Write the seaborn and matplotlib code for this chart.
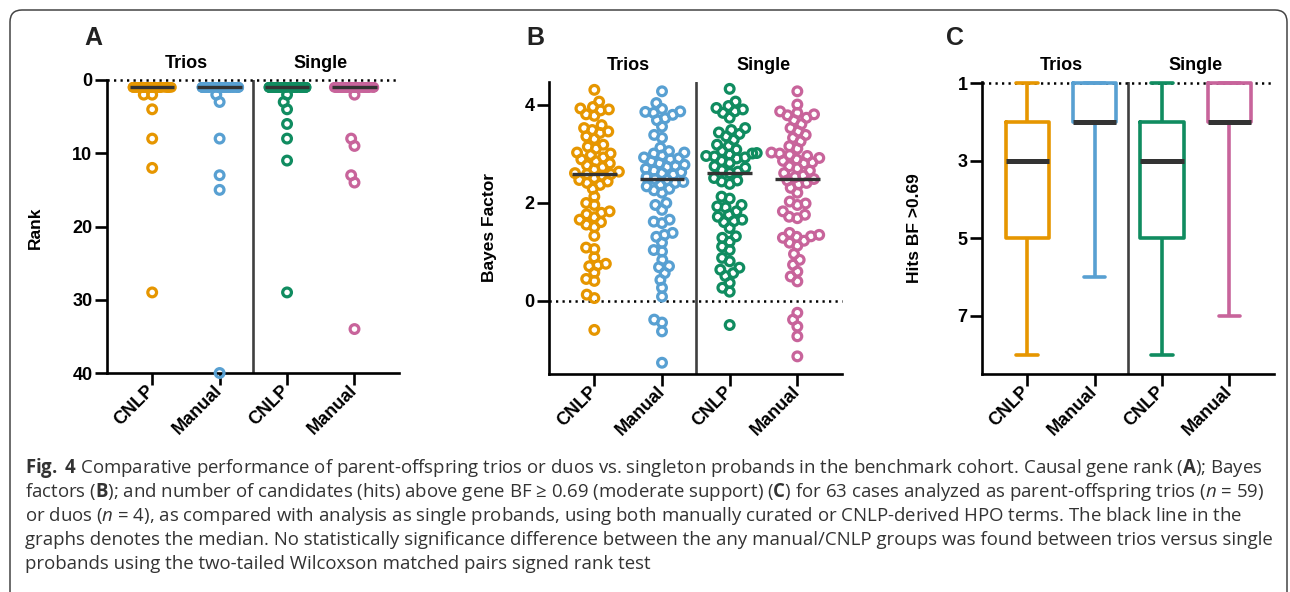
import numpy as np
import pandas as pd
import matplotlib
matplotlib.use("Agg")
import matplotlib.pyplot as plt
from matplotlib.patches import FancyBboxPatch
from matplotlib.transforms import IdentityTransform
import seaborn as sns

groups = ["Trios CNLP", "Trios Manual", "Single CNLP", "Single Manual"]
tick_labels = ["CNLP", "Manual", "CNLP", "Manual"]
colors = ["#E69600", "#58A0D2", "#108C60", "#C8649B"]
n_cases = 63

# A: causal gene rank; every case not listed sits at rank 1
rank_trios_cnlp = [2, 2, 4, 8, 12, 29]
rank_trios_manual = [2, 3, 8, 13, 15, 40]
rank_single_cnlp = [2, 3, 4, 6, 8, 11, 29]
rank_single_manual = [2, 8, 9, 13, 14, 34]

# B: Bayes factors
bf_trios_cnlp = [4.30, 4.06, 3.95, 3.92, 3.90, 3.88, 3.80, 3.77, 3.58, 3.52, 3.48,
                 3.45, 3.42, 3.35, 3.30, 3.18, 3.14, 3.10, 3.02, 3.00, 2.97, 2.92,
                 2.88, 2.84, 2.80, 2.76, 2.72, 2.68, 2.63, 2.60, 2.58, 2.58, 2.55,
                 2.50, 2.46, 2.43, 2.40, 2.36, 2.28, 2.12, 1.99, 1.95, 1.82, 1.79,
                 1.76, 1.70, 1.65, 1.60, 1.55, 1.50, 1.32, 1.08, 1.05, 0.88, 0.75,
                 0.72, 0.70, 0.57, 0.44, 0.40, 0.12, 0.05, -0.60]
bf_trios_manual = [4.27, 4.03, 3.91, 3.86, 3.85, 3.83, 3.79, 3.72, 3.68, 3.55, 3.38,
                   3.32, 3.12, 3.05, 3.02, 3.00, 2.96, 2.92, 2.90, 2.88, 2.84, 2.80,
                   2.77, 2.75, 2.73, 2.69, 2.65, 2.62, 2.60, 2.57, 2.52, 2.48, 2.46,
                   2.42, 2.40, 2.36, 2.33, 2.28, 2.25, 2.20, 1.99, 1.95, 1.85, 1.65,
                   1.61, 1.58, 1.38, 1.34, 1.30, 1.18, 1.03, 1.00, 0.83, 0.70, 0.68,
                   0.56, 0.42, 0.26, 0.08, -0.39, -0.45, -0.63, -1.27]
bf_single_cnlp = [4.32, 4.06, 3.97, 3.93, 3.90, 3.86, 3.83, 3.73, 3.52, 3.48, 3.43,
                  3.40, 3.35, 3.28, 3.18, 3.15, 3.08, 3.05, 3.01, 3.00, 2.98, 2.95,
                  2.94, 2.92, 2.90, 2.85, 2.81, 2.74, 2.71, 2.66, 2.63, 2.60, 2.50,
                  2.45, 2.43, 2.38, 2.12, 2.08, 1.95, 1.92, 1.90, 1.82, 1.75, 1.71,
                  1.65, 1.62, 1.60, 1.48, 1.31, 1.28, 1.20, 1.10, 1.03, 0.87, 0.80,
                  0.67, 0.63, 0.56, 0.50, 0.36, 0.26, 0.18, -0.50]
bf_single_manual = [4.27, 4.00, 3.86, 3.83, 3.80, 3.78, 3.73, 3.68, 3.60, 3.52, 3.45,
                    3.38, 3.32, 3.25, 3.15, 3.10, 3.02, 3.00, 2.97, 2.95, 2.91, 2.88,
                    2.85, 2.82, 2.80, 2.74, 2.70, 2.65, 2.60, 2.55, 2.52, 2.48, 2.45,
                    2.40, 2.37, 2.30, 2.20, 2.02, 1.98, 1.95, 1.82, 1.75, 1.71, 1.68,
                    1.38, 1.34, 1.31, 1.30, 1.28, 1.22, 1.18, 1.12, 0.95, 0.83, 0.73,
                    0.59, 0.49, 0.39, -0.25, -0.39, -0.53, -0.73, -1.14]

# C: number of hits with BF > 0.69
hits_trios_cnlp = [1] * 5 + [2] * 12 + [3] * 16 + [4] * 12 + [5] * 10 + [6] * 4 + [7] * 2 + [8] * 2
hits_trios_manual = [1] * 20 + [2] * 30 + [3] * 6 + [4] * 4 + [5] * 2 + [6] * 1
hits_single_cnlp = [1] * 5 + [2] * 12 + [3] * 16 + [4] * 12 + [5] * 10 + [6] * 4 + [7] * 2 + [8] * 2
hits_single_manual = [1] * 20 + [2] * 32 + [3] * 5 + [4] * 3 + [5] * 2 + [7] * 1

caption_lines = [
    r"$\mathbf{Fig.}$ $\mathbf{4}$ Comparative performance of parent-offspring trios or duos vs. singleton probands in the benchmark cohort. Causal gene rank ($\mathbf{A}$); Bayes",
    r"factors ($\mathbf{B}$); and number of candidates (hits) above gene BF ≥ 0.69 (moderate support) ($\mathbf{C}$) for 63 cases analyzed as parent-offspring trios ($n$ = 59)",
    r"or duos ($n$ = 4), as compared with analysis as single probands, using both manually curated or CNLP-derived HPO terms. The black line in the",
    "graphs denotes the median. No statistically significance difference between the any manual/CNLP groups was found between trios versus single",
    "probands using the two-tailed Wilcoxson matched pairs signed rank test",
]

ranks = [rank_trios_cnlp, rank_trios_manual, rank_single_cnlp, rank_single_manual]
df_a = pd.concat([
    pd.DataFrame({"group": g, "rank": [1] * (n_cases - len(r)) + r})
    for g, r in zip(groups, ranks)
])
df_b = pd.concat([
    pd.DataFrame({"group": g, "bf": v})
    for g, v in zip(groups, [bf_trios_cnlp, bf_trios_manual, bf_single_cnlp, bf_single_manual])
])
df_c = pd.concat([
    pd.DataFrame({"group": g, "hits": v})
    for g, v in zip(groups, [hits_trios_cnlp, hits_trios_manual, hits_single_cnlp, hits_single_manual])
])

sns.set_theme(style="ticks")
plt.rcParams["font.family"] = ["Liberation Sans", "DejaVu Sans"]
plt.rcParams["text.color"] = "black"
plt.rcParams["mathtext.fontset"] = "custom"
plt.rcParams["mathtext.rm"] = "Open Sans"
plt.rcParams["mathtext.it"] = "Open Sans:style=italic:weight=normal"
plt.rcParams["mathtext.bf"] = "Open Sans:weight=bold"

W, H = 1290, 592
fig = plt.figure(figsize=(W / 100, H / 100), dpi=100)

# swarm layout uses a small marker (packed like the original), then the
# marker is drawn larger so the rings overlap
SWARM_SIZE, SWARM_LW = 4.3, 1.45
MARK_SIZE, MARK_LW = 6.3, 2.3


def px_axes(left, top, right, bottom):
    return fig.add_axes([left / W, 1 - bottom / H, (right - left) / W, (bottom - top) / H])


def hollow(ax, start=0):
    for coll in ax.collections[start:]:
        fc = coll.get_facecolors()
        coll.set_edgecolors(fc)
        coll.set_facecolors("none")
        coll.set_clip_on(False)


def style_axis(ax, ylabel, label_x, label_y, yticks, ref_y):
    sns.despine(ax=ax)
    for s in ["left", "bottom"]:
        ax.spines[s].set_linewidth(1.9)
        ax.spines[s].set_color("black")
    ax.tick_params(axis="both", length=8.5, width=1.9, color="black",
                   labelsize=13, pad=2, left=True, bottom=True, labelcolor="black")
    ax.set_xlim(-0.67, 3.66)
    ax.set_xticks(range(4))
    ax.set_xticklabels(tick_labels, rotation=45, ha="right", va="center",
                       rotation_mode="anchor", fontweight="bold")
    ax.set_yticks(yticks)
    ax.set_yticklabels([str(t) for t in yticks], fontweight="bold")
    ax.set_xlabel("")
    ax.set_ylabel(ylabel, fontsize=12.5, fontweight="bold", color="black")
    ax.yaxis.set_label_coords(label_x, label_y)
    ax.axvline(1.5, color="#404040", lw=1.9, zorder=1)
    ax.axhline(ref_y, color="black", lw=1.8, linestyle=(0, (0.9, 1.7)), zorder=1, clip_on=False)
    tr = ax.get_xaxis_transform()
    for x, name in [(0.5, "Trios"), (2.5, "Single")]:
        ax.text(x, 1.055, name, transform=tr, ha="center", va="center",
                fontsize=13, fontweight="bold", color="black")


def median_lines(ax, df, col):
    for i, g in enumerate(groups):
        m = np.median(df.loc[df["group"] == g, col])
        ax.hlines(m, i - 0.33, i + 0.33, color="#333333", lw=2.4, zorder=5)


# Panel A
axA = px_axes(107, 80, 399, 373)
np.random.seed(3)
band = df_a[df_a["rank"] == 1]
rest = df_a[df_a["rank"] > 1]
sns.stripplot(data=band, x="group", y="rank", hue="group", order=groups, hue_order=groups,
              palette=colors, jitter=0.3, size=5.6, linewidth=2.1, legend=False, ax=axA)
for coll in axA.collections:
    coll.set_edgecolors(coll.get_facecolors())
n0 = len(axA.collections)
sns.swarmplot(data=rest, x="group", y="rank", hue="group", order=groups, hue_order=groups,
              palette=colors, size=SWARM_SIZE, linewidth=SWARM_LW, legend=False, ax=axA)
hollow(axA, n0)
swarm_a = axA.collections[n0:]
axA.set_ylim(40, 0)
median_lines(axA, df_a, "rank")
style_axis(axA, "Rank", -0.219, 0.495, [0, 10, 20, 30, 40], 0)

# Panel B
axB = px_axes(549, 82, 842, 374)
sns.swarmplot(data=df_b, x="group", y="bf", hue="group", order=groups, hue_order=groups,
              palette=colors, size=SWARM_SIZE, linewidth=SWARM_LW, legend=False, ax=axB)
hollow(axB)
swarm_b = list(axB.collections)
axB.set_ylim(-1.5, 4.46)
median_lines(axB, df_b, "bf")
style_axis(axB, "Bayes Factor", -0.177, 0.5, [0, 2, 4], 0)

# Panel C
axC = px_axes(982, 82, 1274, 374)
sns.boxplot(data=df_c, x="group", y="hits", hue="group", order=groups, hue_order=groups,
            palette=colors, fill=False, whis=(0, 100), width=0.64, linewidth=2.6,
            showfliers=False, medianprops={"color": "#333333", "linewidth": 3.6},
            legend=False, ax=axC)
for ln in axC.lines:
    ln.set_clip_on(False)
axC.set_ylim(8.5, 0.97)
style_axis(axC, "Hits BF >0.69", -0.205, 0.5, [1, 3, 5, 7], 1)

# lay out the swarms with the final limits, then freeze and enlarge the rings
fig.canvas.draw()
for coll in list(swarm_a) + swarm_b:
    if "draw" in coll.__dict__:
        del coll.draw
    coll.set_sizes([MARK_SIZE ** 2])
    coll.set_linewidth(MARK_LW)

# panel letters
for letter, x in [("A", 93), ("B", 535), ("C", 955)]:
    fig.text(x / W, 1 - 38 / H, letter, ha="center", va="center", fontsize=18,
             fontweight="bold", color="#222222")

# caption
for i, line in enumerate(caption_lines):
    fig.text(25 / W, 1 - (468 + 24 * i) / H, line, ha="left", va="center",
             fontsize=13.4, family="Open Sans", fontweight="normal", color="#333333")

frame = FancyBboxPatch((10, -30), 1277, H - 10 + 30, boxstyle="round,pad=0,rounding_size=12",
                       transform=IdentityTransform(), fill=False, ec="#444444", lw=1.1)
fig.add_artist(frame)

fig.savefig("out.png", dpi=100)
